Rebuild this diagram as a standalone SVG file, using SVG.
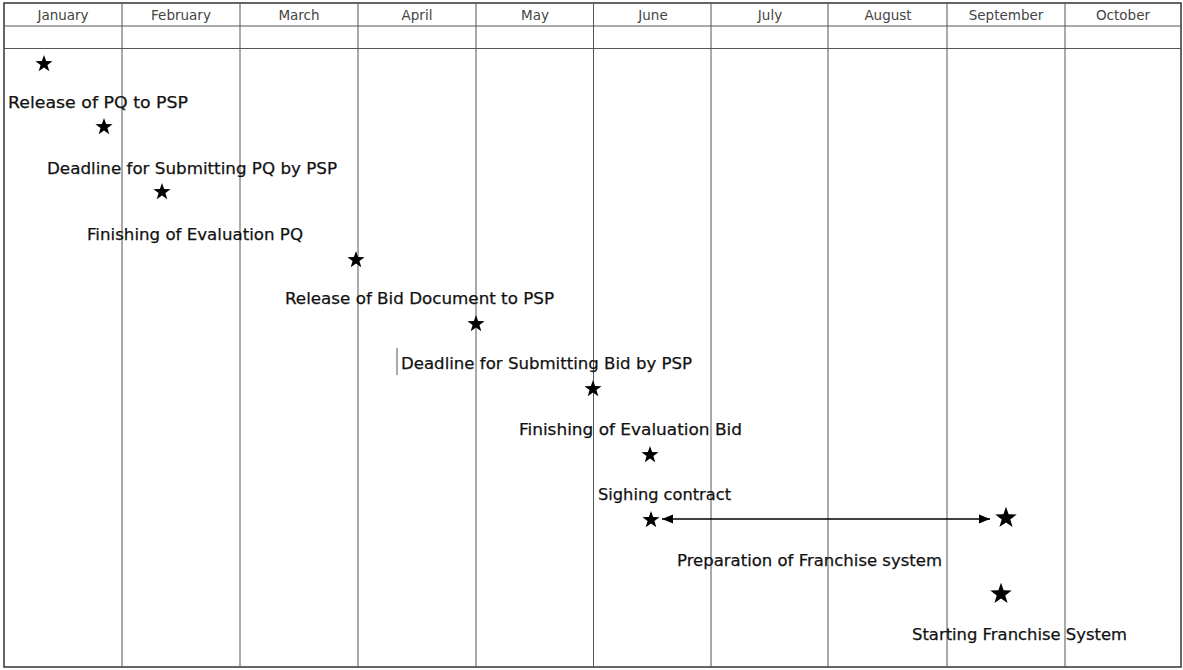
<svg xmlns="http://www.w3.org/2000/svg" width="1183" height="670" viewBox="0 0 1183 670">
<style>
.grid{stroke:#555;stroke-width:1;fill:none}
.frame{stroke:#333;stroke-width:1.5;fill:none}
.month{font-family:"DejaVu Sans","Liberation Sans",sans-serif;font-size:13.5px;fill:#444;text-anchor:middle}
.lbl{font-family:"DejaVu Sans","Liberation Sans",sans-serif;font-size:16.5px;fill:#111;stroke:#111;stroke-width:0.25}
.star{fill:#000}
</style>
<defs>
<path id="star" d="M0,-9 L2.12,-2.91 L8.56,-2.78 L3.42,1.11 L5.29,7.28 L0,3.6 L-5.29,7.28 L-3.42,1.11 L-8.56,-2.78 L-2.12,-2.91 Z"/>
<marker id="ah" viewBox="0 0 10 10" refX="10" refY="5" markerWidth="11" markerHeight="11" markerUnits="userSpaceOnUse" orient="auto-start-reverse">
<path d="M0,1 L10,5 L0,9 Z" fill="#000"/>
</marker>
</defs>
<rect width="1183" height="670" fill="#fff"/>
<g id="grid">
<rect class="frame" x="4" y="3" width="1177" height="664"/>
<line class="grid" x1="4" y1="26" x2="1181" y2="26"/>
<line class="grid" x1="4" y1="48.5" x2="1181" y2="48.5" stroke-width="1.3"/>
<line class="grid" x1="122" y1="3" x2="122" y2="667"/>
<line class="grid" x1="240" y1="3" x2="240" y2="667"/>
<line class="grid" x1="358" y1="3" x2="358" y2="667"/>
<line class="grid" x1="476" y1="3" x2="476" y2="667"/>
<line class="grid" x1="593.5" y1="3" x2="593.5" y2="667"/>
<line class="grid" x1="711" y1="3" x2="711" y2="667"/>
<line class="grid" x1="828" y1="3" x2="828" y2="667"/>
<line class="grid" x1="947" y1="3" x2="947" y2="667"/>
<line class="grid" x1="1065" y1="3" x2="1065" y2="667"/>
<line class="grid" x1="397" y1="348" x2="397" y2="375" stroke="#888"/>
</g>
<g id="months">
<text class="month" x="63" y="20">January</text>
<text class="month" x="181" y="20">February</text>
<text class="month" x="299" y="20">March</text>
<text class="month" x="417" y="20">April</text>
<text class="month" x="535" y="20">May</text>
<text class="month" x="653" y="20">June</text>
<text class="month" x="770" y="20">July</text>
<text class="month" x="888" y="20">August</text>
<text class="month" x="1006" y="20">September</text>
<text class="month" x="1123" y="20">October</text>
</g>
<g id="connectors">
<line x1="662" y1="519" x2="990" y2="519" stroke="#000" stroke-width="1.5" marker-start="url(#ah)" marker-end="url(#ah)"/>
</g>
<g id="m1"><use href="#star" class="star" x="44" y="64"/><text class="lbl" x="8" y="108" textLength="180" lengthAdjust="spacingAndGlyphs">Release of PQ to PSP</text></g>
<g id="m2"><use href="#star" class="star" x="104" y="127"/><text class="lbl" x="47" y="174" textLength="290" lengthAdjust="spacingAndGlyphs">Deadline for Submitting PQ by PSP</text></g>
<g id="m3"><use href="#star" class="star" x="162" y="192"/><text class="lbl" x="87" y="240" textLength="216" lengthAdjust="spacingAndGlyphs">Finishing of Evaluation PQ</text></g>
<g id="m4"><use href="#star" class="star" x="356" y="260"/><text class="lbl" x="285" y="304" textLength="269" lengthAdjust="spacingAndGlyphs">Release of Bid Document to PSP</text></g>
<g id="m5"><use href="#star" class="star" x="476" y="324"/><text class="lbl" x="401" y="369" textLength="291" lengthAdjust="spacingAndGlyphs">Deadline for Submitting Bid by PSP</text></g>
<g id="m6"><use href="#star" class="star" x="593" y="389"/><text class="lbl" x="519" y="435" textLength="223" lengthAdjust="spacingAndGlyphs">Finishing of Evaluation Bid</text></g>
<g id="m7"><use href="#star" class="star" x="650" y="455"/><text class="lbl" x="598" y="500" textLength="133" lengthAdjust="spacingAndGlyphs">Sighing contract</text></g>
<g id="m8"><use href="#star" class="star" x="651" y="520"/><text class="lbl" x="677" y="566" textLength="265" lengthAdjust="spacingAndGlyphs">Preparation of Franchise system</text></g>
<g id="m9"><use href="#star" class="star" transform="translate(1006,518) scale(1.25)"/></g>
<g id="m10"><use href="#star" class="star" transform="translate(1001,594) scale(1.25)"/><text class="lbl" x="912" y="640" textLength="215" lengthAdjust="spacingAndGlyphs">Starting Franchise System</text></g>
</svg>
